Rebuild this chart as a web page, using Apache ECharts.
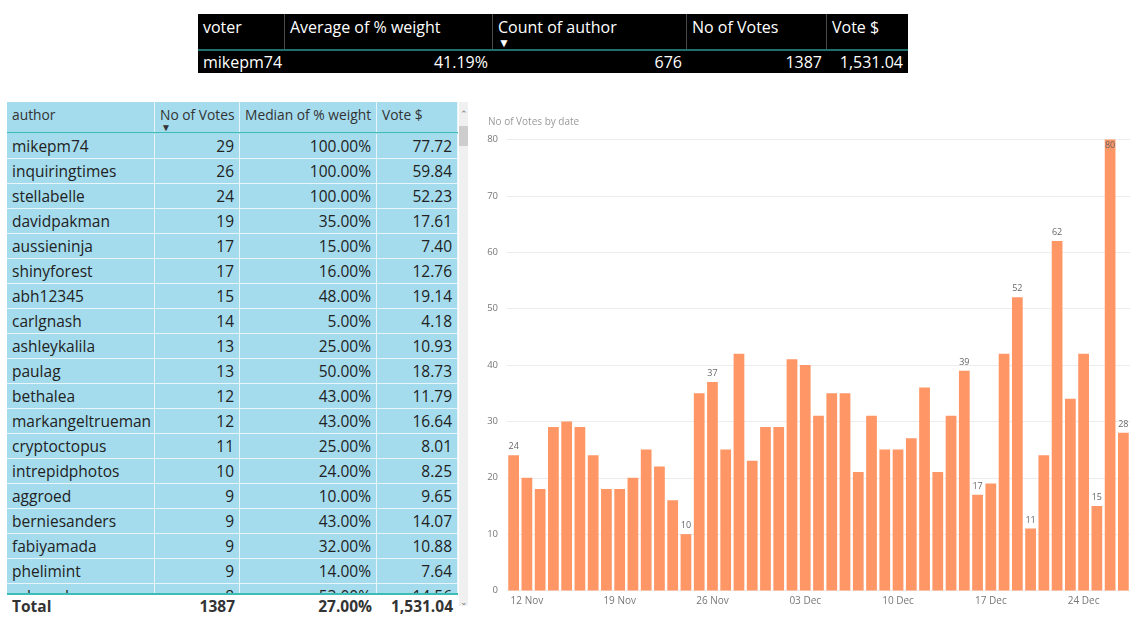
<!DOCTYPE html>
<html>
<head>
<meta charset="utf-8">
<script src="https://cdn.jsdelivr.net/npm/echarts@6/dist/echarts.min.js"></script>
<style>
html,body{margin:0;padding:0;background:#fff;width:1140px;height:621px;overflow:hidden;font-family:"Open Sans","Noto Sans",sans-serif;}
#top{position:absolute;left:198px;top:14px;width:710px;height:59px;background:#000;color:#fff;}
#top .hd{position:absolute;top:0;height:36px;border-right:1px solid #4a4a4a;box-sizing:border-box;font-size:16px;padding:1px 5px;line-height:24px;}
#top .dt{position:absolute;top:37px;height:22px;font-size:16px;padding:0 5px;box-sizing:border-box;line-height:22px;}
#top .line{position:absolute;left:0;top:35px;width:710px;height:2px;background:#1f6f6c;}
#tbl{position:absolute;left:7px;top:102px;width:451px;height:491px;background:#a4dcee;overflow:hidden;}
#tbl .h{position:absolute;top:0;height:30px;font-size:13.8px;color:#333;padding:3px 5px;box-sizing:border-box;border-right:1px solid #e8f6fb;white-space:nowrap;}
#tbl .hl{position:absolute;left:0;top:30px;width:451px;height:1px;background:#3bbdb5;}
#tbl .c{position:absolute;height:25px;line-height:25px;font-size:15.5px;color:#222;padding:0 5px;box-sizing:border-box;border-right:1px solid #e8f6fb;border-bottom:1px solid #e8f6fb;white-space:nowrap;}
#totline{position:absolute;left:7px;top:593px;width:451px;height:2px;background:#3bbdb5;}
.t{position:absolute;top:595px;height:22px;line-height:22px;font-size:15.5px;font-weight:bold;color:#333;padding:0 5px;box-sizing:border-box;}
#scroll{position:absolute;left:459px;top:102px;width:9px;height:504px;background:#f0f0f0;}
#thumb{position:absolute;left:459px;top:126px;width:9px;height:20px;background:#cdcdcd;}
.arr{position:absolute;left:459px;width:9px;font-size:9px;color:#777;text-align:center;line-height:9px;}
#chart{position:absolute;left:470px;top:100px;width:670px;height:521px;}
</style>
</head>
<body>
<div id="top"></div>
<div id="tbl"></div>
<div id="totline"></div>
<div id="scroll"></div><div id="thumb"></div>
<div class="arr" style="top:109px">&#8963;</div>
<div class="arr" style="top:597px">&#8964;</div>
<div id="chart"></div>
<script>
// ---- summary table (top) ----
var topHeaders = ['voter', 'Average of % weight', 'Count of author', 'No of Votes', 'Vote $'];
var topValues = ['mikepm74', '41.19%', '676', '1387', '1,531.04'];

// ---- author table (left) ----
var tableHeaders = ['author', 'No of Votes', 'Median of % weight', 'Vote $'];
var authors = ['mikepm74','inquiringtimes','stellabelle','davidpakman','aussieninja','shinyforest','abh12345','carlgnash','ashleykalila','paulag','bethalea','markangeltrueman','cryptoctopus','intrepidphotos','aggroed','berniesanders','fabiyamada','phelimint','rehmed'];
var authorVotes = [29,26,24,19,17,17,15,14,13,13,12,12,11,10,9,9,9,9,8];
var authorMedian = ['100.00%','100.00%','100.00%','35.00%','15.00%','16.00%','48.00%','5.00%','25.00%','50.00%','43.00%','43.00%','25.00%','24.00%','10.00%','43.00%','32.00%','14.00%','53.00%'];
var authorVoteUsd = ['77.72','59.84','52.23','17.61','7.40','12.76','19.14','4.18','10.93','18.73','11.79','16.64','8.01','8.25','9.65','14.07','10.88','7.64','14.56'];
var totals = ['Total', '1387', '27.00%', '1,531.04'];

// ---- bar chart ----
var chartTitle = 'No of Votes by date';
var dates = ['11 Nov','12 Nov','13 Nov','14 Nov','15 Nov','16 Nov','17 Nov','18 Nov','19 Nov','20 Nov','21 Nov','22 Nov','23 Nov','24 Nov','25 Nov','26 Nov','27 Nov','28 Nov','29 Nov','30 Nov',
 '01 Dec','02 Dec','03 Dec','04 Dec','05 Dec','06 Dec','07 Dec','08 Dec','09 Dec','10 Dec','11 Dec','12 Dec','13 Dec','14 Dec','15 Dec','16 Dec','17 Dec','18 Dec','19 Dec','20 Dec','21 Dec','22 Dec','23 Dec','24 Dec','25 Dec','26 Dec','27 Dec'];
var votesByDate = [24,20,18,29,30,29,24,18,18,20,25,22,16,10,35,37,25,42,23,29,29,41,40,
 31,35,35,21,31,25,25,27,36,21,31,39,17,19,42,52,11,24,62,34,42,15,80,28];
var labeledDates = ['11 Nov','24 Nov','26 Nov','15 Dec','16 Dec','19 Dec','20 Dec','22 Dec','25 Dec','26 Dec','27 Dec'];
var xTickDates = ['12 Nov','19 Nov','26 Nov','03 Dec','10 Dec','17 Dec','24 Dec'];
var yTicks = [0,10,20,30,40,50,60,70,80];

// build top table
(function(){
  var el = document.getElementById('top');
  var lefts = [0,87,295,489,629], widths = [87,208,194,140,81];
  var html = '';
  for (var i=0;i<topHeaders.length;i++){
    html += '<div class="hd" style="left:'+lefts[i]+'px;width:'+widths[i]+'px;'+(i==4?'border-right:none;':'')+'">'+topHeaders[i]+
      (i==2?'<div style="font-size:12px;line-height:8px;margin-top:0px">&#9660;</div>':'')+'</div>';
    html += '<div class="dt" style="left:'+lefts[i]+'px;width:'+widths[i]+'px;text-align:'+(i==0?'left':'right')+'">'+topValues[i]+'</div>';
  }
  html += '<div class="line"></div>';
  el.innerHTML = html;
})();

// build left table
(function(){
  var el = document.getElementById('tbl');
  var lefts = [0,148,233,370], widths = [148,85,137,81];
  var html = '';
  for (var i=0;i<tableHeaders.length;i++){
    html += '<div class="h" style="left:'+lefts[i]+'px;width:'+widths[i]+'px;">'+tableHeaders[i]+
      (i==1?'<div style="font-size:10px;line-height:6px;color:#333;padding-left:1px">&#9660;</div>':'')+'</div>';
  }
  html += '<div class="hl"></div>';
  for (var r=0;r<authors.length;r++){
    var top = 32 + r*25;
    var cols = [authors[r], authorVotes[r], authorMedian[r], authorVoteUsd[r]];
    for (var c=0;c<4;c++){
      html += '<div class="c" style="top:'+top+'px;left:'+lefts[c]+'px;width:'+widths[c]+'px;text-align:'+(c==0?'left':'right')+'">'+cols[c]+'</div>';
    }
  }
  el.innerHTML = html;
  var tl = [7,155,240,377];
  var tw = [148,85,137,81];
  var h2 = '';
  for (var k=0;k<4;k++){
    h2 += '<div class="t" style="left:'+tl[k]+'px;width:'+tw[k]+'px;text-align:'+(k==0?'left':'right')+'">'+totals[k]+'</div>';
  }
  document.body.insertAdjacentHTML('beforeend', h2);
})();

// chart
var chart = echarts.init(document.getElementById('chart'), null, {renderer:'canvas'});
var maxV = Math.max.apply(null, votesByDate);
var seriesData = votesByDate.map(function(v,i){
  var show = labeledDates.indexOf(dates[i]) >= 0;
  return {value:v, label:{show:show, position: v===maxV ? 'insideTop' : 'top', distance: v===maxV ? 1 : 4}};
});
chart.setOption({
  animation:false,
  title:{text:chartTitle,left:13,top:12,textStyle:{fontSize:10,fontWeight:'normal',color:'#9a9a9a',fontFamily:'"Open Sans","Noto Sans",sans-serif'}},
  grid:{left:37,right:10,top:39.5,bottom:30.5,containLabel:false},
  xAxis:{type:'category',data:dates,
    axisLine:{show:false},axisTick:{show:false},
    axisLabel:{interval:function(i,v){return xTickDates.indexOf(v)>=0;},color:'#777',fontSize:10,margin:6,fontFamily:'"Open Sans","Noto Sans",sans-serif'}},
  yAxis:{type:'value',min:yTicks[0],max:yTicks[yTicks.length-1],interval:10,
    axisLine:{show:false},axisTick:{show:false},
    axisLabel:{color:'#777',fontSize:9.5,margin:9,fontFamily:'"Open Sans","Noto Sans",sans-serif'},
    splitLine:{lineStyle:{color:'#ececec',width:1}}},
  series:[{type:'bar',data:seriesData,barCategoryGap:'19%',
    itemStyle:{color:'#fe9666'},
    label:{color:'#666',fontSize:9,fontFamily:'"Open Sans","Noto Sans",sans-serif'}}]
});
</script>
</body>
</html>
